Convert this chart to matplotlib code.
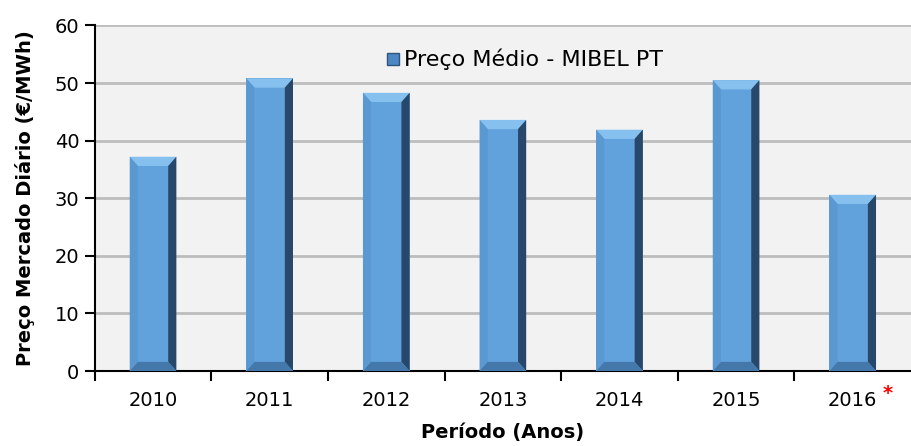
import matplotlib
matplotlib.use("Agg")
import matplotlib.pyplot as plt
from matplotlib.patches import Polygon
from matplotlib.lines import Line2D

plt.rcParams["font.family"] = ["DejaVu Sans"]

years = ["2010", "2011", "2012", "2013", "2014", "2015", "2016"]
prices = [37.2, 50.8, 48.3, 43.6, 41.9, 50.5, 30.6]
series_name = "Preço Médio - MIBEL PT"

fig = plt.figure(figsize=(9.11, 4.46), dpi=100)
ax = fig.add_axes([0.104, 0.168, 0.896, 0.775])
ax.set_facecolor("#f2f2f2")

x = list(range(len(years)))
width = 0.40
bars = ax.bar(x, prices, width=width, color="#62a2dc", edgecolor="none", zorder=3)

# fake bevel look, computed from each bar
bx = 0.07
by = 1.6
for rect in bars:
    x0 = rect.get_x()
    x1 = x0 + rect.get_width()
    h = rect.get_height()
    top = [(x0, h), (x1, h), (x1 - bx, h - by), (x0 + bx, h - by)]
    left = [(x0, 0), (x0, h), (x0 + bx, h - by), (x0 + bx, by)]
    right = [(x1, 0), (x1, h), (x1 - bx, h - by), (x1 - bx, by)]
    bottom = [(x0, 0), (x1, 0), (x1 - bx, by), (x0 + bx, by)]
    ax.add_patch(Polygon(top, closed=True, color="#86c0ee", lw=0, zorder=4))
    ax.add_patch(Polygon(left, closed=True, color="#5a98d2", lw=0, zorder=4))
    ax.add_patch(Polygon(right, closed=True, color="#27486a", lw=0, zorder=4))
    ax.add_patch(Polygon(bottom, closed=True, color="#4578aa", lw=0, zorder=4))

ax.set_xlim(-0.5, len(years) - 0.5)
ax.set_ylim(0, 60)
ax.set_yticks(range(0, 61, 10))
ax.yaxis.grid(True, color="#bdbdbd", linewidth=2, zorder=0)
ax.set_axisbelow(True)

ax.set_xticks(x)
ax.set_xticklabels(years, fontsize=14)
ax.set_xticks([i + 0.5 for i in x[:-1]] + [-0.5], minor=True)
ax.tick_params(axis="x", which="major", length=0, pad=14)
ax.tick_params(axis="x", which="minor", length=7, width=1.5, color="black", direction="out")
ax.tick_params(axis="y", length=7, width=1.5, labelsize=14, pad=4)

for s in ["top", "right"]:
    ax.spines[s].set_visible(False)
for s in ["left", "bottom"]:
    ax.spines[s].set_linewidth(1.5)
    ax.spines[s].set_color("black")

ax.set_ylabel("Preço Mercado Diário (€/MWh)", fontsize=14, fontweight="bold", labelpad=14)
ax.set_xlabel("Período (Anos)", fontsize=14, fontweight="bold", labelpad=10)

# red asterisk on the last year
ax.annotate("*", xy=(x[-1], 0), xycoords=("data", "axes fraction"),
            xytext=(25, -9), textcoords="offset points",
            color="red", fontsize=14, fontweight="bold", ha="center", va="top")

handle = Line2D([], [], marker="s", linestyle="none", markersize=8,
                markerfacecolor="#4d88c4", markeredgecolor="#2f557c")
ax.legend([handle], [series_name], loc="upper center", bbox_to_anchor=(0.525, 0.99),
          frameon=False, fontsize=16, handletextpad=0.1, handlelength=0.8)

fig.savefig("out.png", dpi=100, facecolor="white")
